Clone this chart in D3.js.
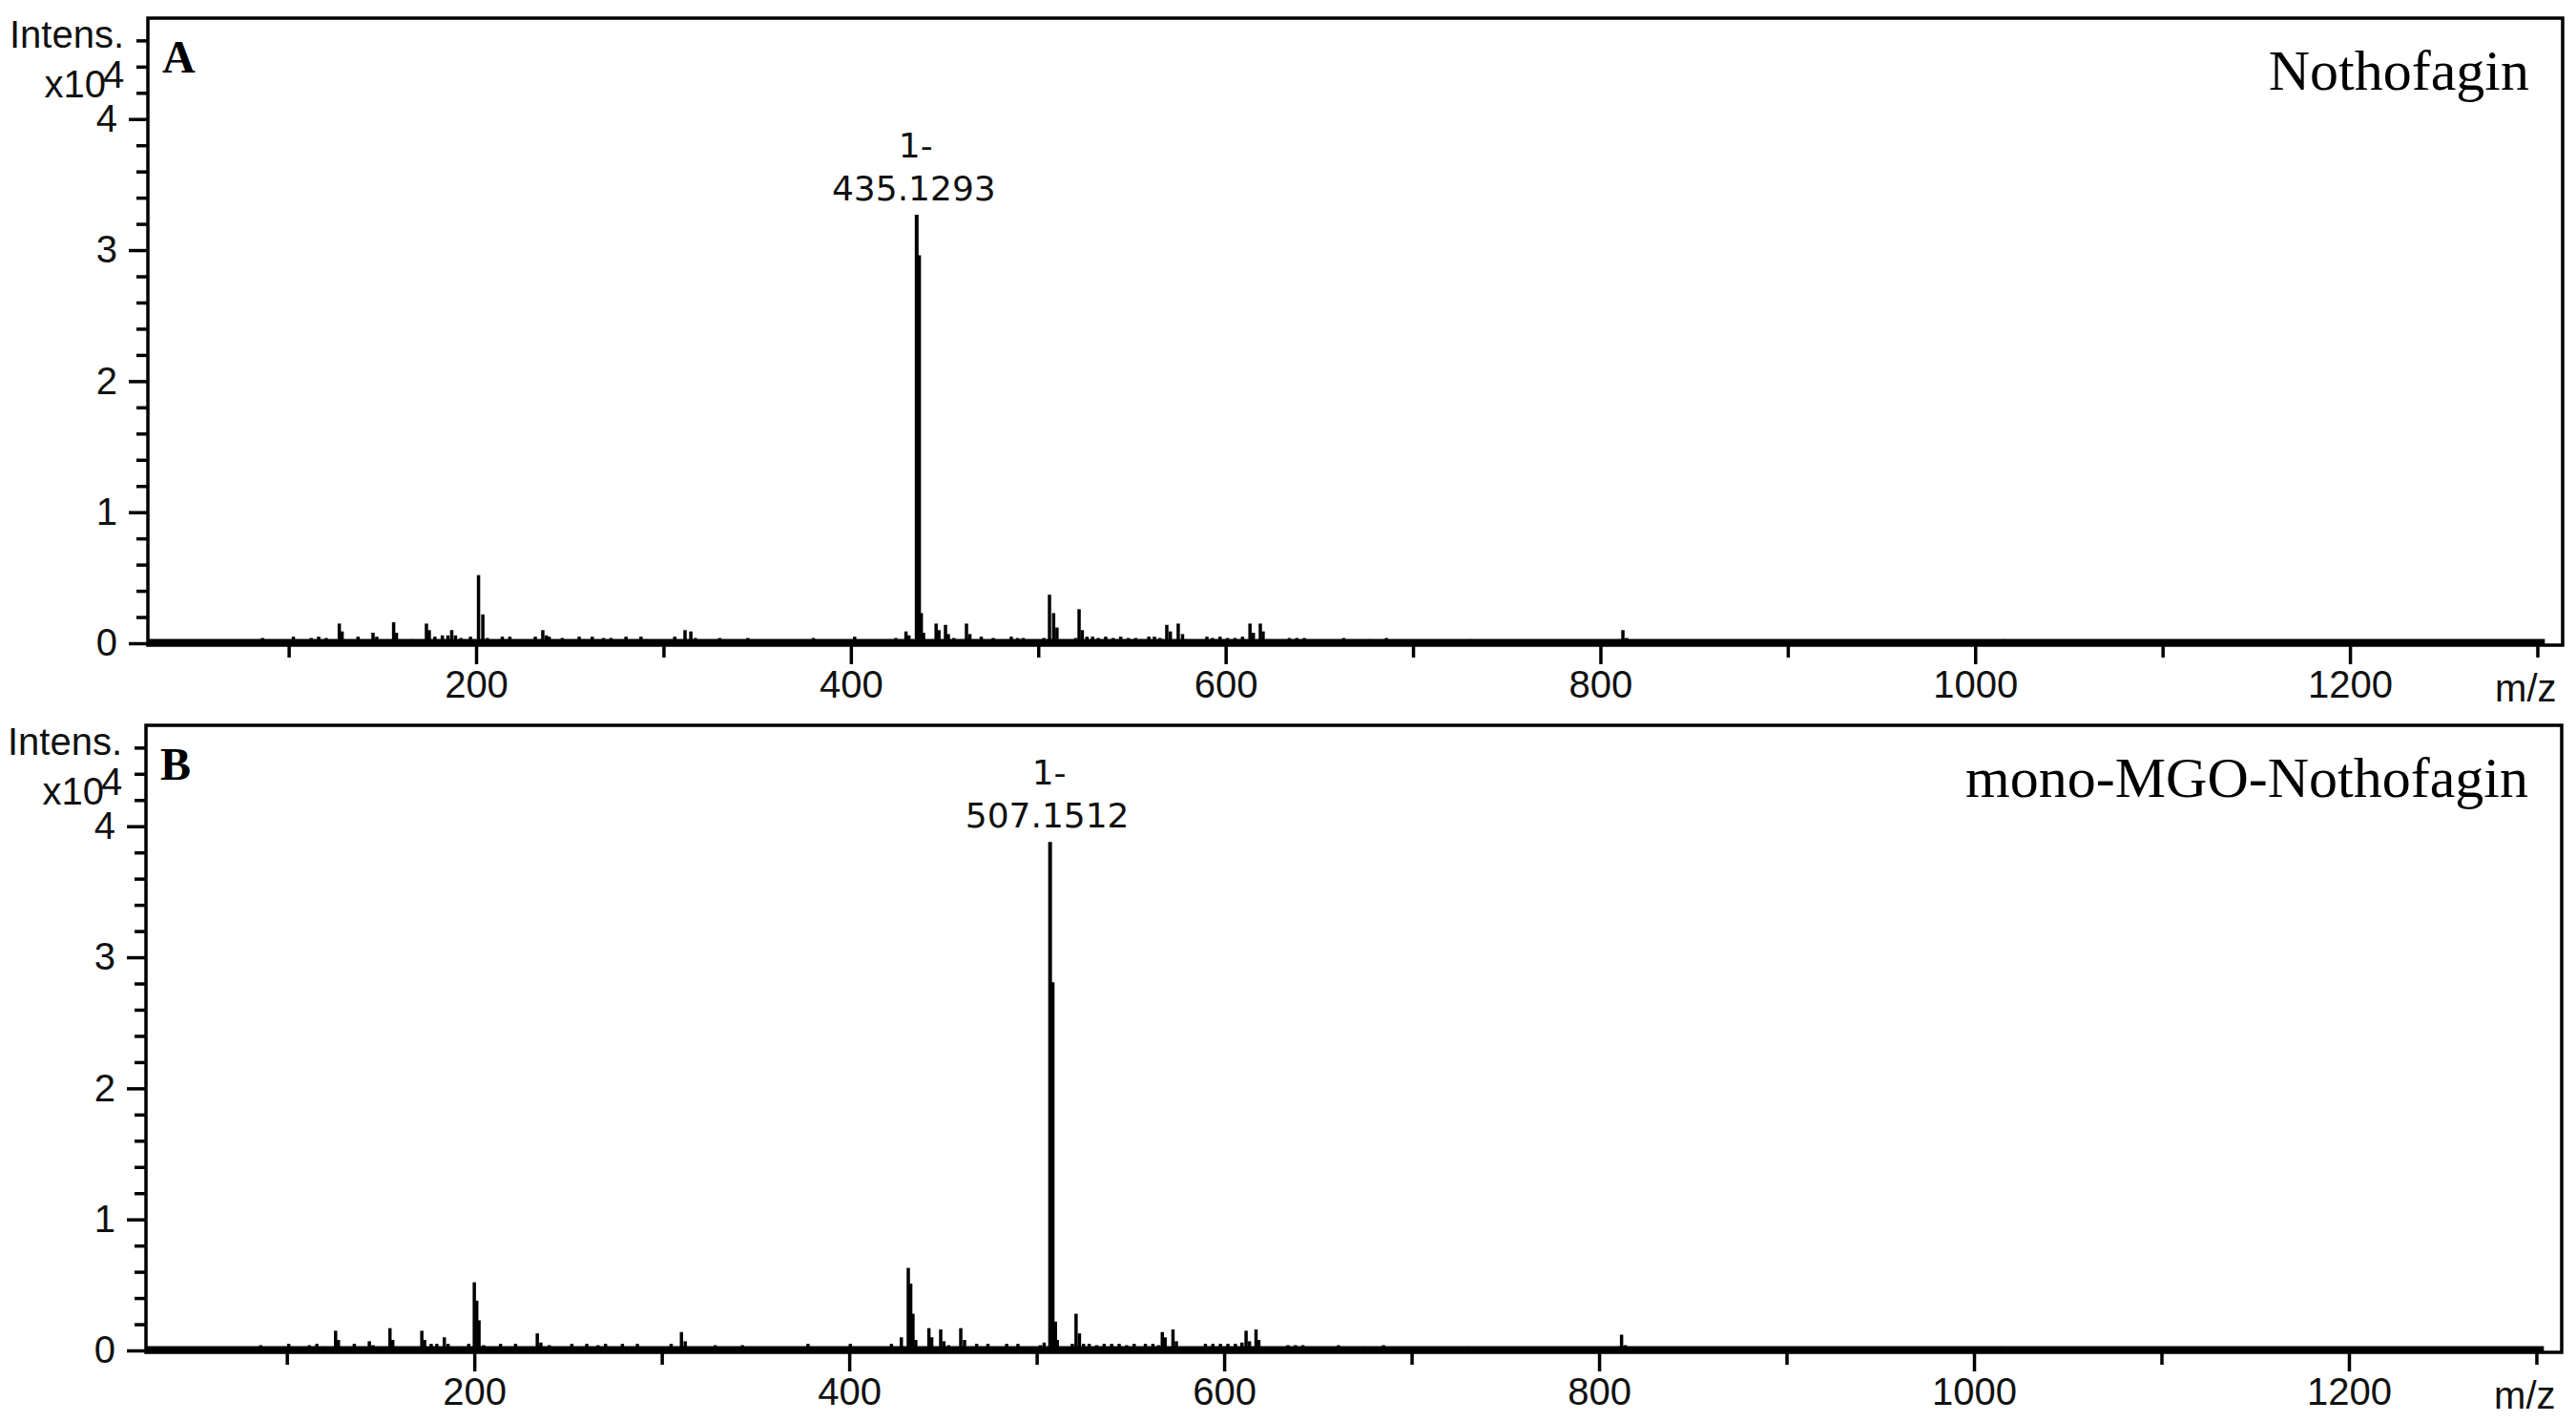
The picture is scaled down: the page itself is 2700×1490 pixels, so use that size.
<!DOCTYPE html>
<html><head><meta charset="utf-8">
<script src="https://cdn.jsdelivr.net/npm/d3@7"></script>
<style>html,body{margin:0;padding:0;background:#fff;} svg{display:block;}</style>
</head><body>
<script>
// ---------- DATA ----------
const mzTicks = [100,200,300,400,500,600,700,800,900,1000,1100,1200,1300];
const mzLabels = [200,400,600,800,1000,1200];
const yMajor = [0,1,2,3,4];
const yMinor = [0.2,0.4,0.6,0.8,1.2,1.4,1.6,1.8,2.2,2.4,2.6,2.8,3.2,3.4,3.6,3.8,4.2,4.4,4.6];

// Panel A: Nothofagin  (m/z, intensity x10^4)
const mzA = [86,102.5,112,116,120,127,128.5,137,145,147,156,157.5,166,173.5,175,178,182,185,187,189,192,197,
  201.3,203.6,206,214,218,231.6,235.6,237.5,239,246,255,258,262,268,272,280,288,291,306,311.5,314.6,317,
  330,345,380,402,424,429.4,431,435.13,436.4,437.6,438.8,445.5,447,450.5,452,455,461.7,463.5,469.6,476,
  485.6,489,492,503,506,508.2,510,520,521.8,523.5,526,529,532,536,540,544,548,552,555,559,562,565,568.6,
  570.5,574.7,577,579,590,593,597,601,605,609,613,614.8,618.5,620,634,638,642,663,676.6,685.8,730.5,733,
  810,812,814,1015.6];
const intA = [0.04,0.05,0.04,0.05,0.04,0.15,0.09,0.05,0.08,0.05,0.16,0.08,0.03,0.15,0.10,0.05,0.06,0.06,0.10,0.06,0.04,0.05,
  0.52,0.22,0.04,0.05,0.05,0.05,0.10,0.06,0.05,0.04,0.05,0.03,0.05,0.04,0.04,0.05,0.05,0.03,0.05,0.10,0.09,0.04,
  0.04,0.04,0.04,0.05,0.04,0.09,0.06,3.27,2.96,0.23,0.08,0.15,0.10,0.14,0.07,0.04,0.15,0.07,0.05,0.04,
  0.05,0.04,0.04,0.04,0.37,0.23,0.12,0.04,0.26,0.10,0.05,0.05,0.04,0.05,0.04,0.05,0.04,0.04,0.03,0.05,0.05,0.04,0.14,
  0.09,0.15,0.07,0.03,0.05,0.04,0.05,0.04,0.04,0.05,0.15,0.08,0.15,0.09,0.04,0.04,0.04,0.04,0.03,0.04,0.03,0.02,
  0.03,0.10,0.04,0.03];

// Panel B: mono-MGO-Nothofagin
const mzB = [86,101,112,116,120,126,127.5,136,144,146,155,156.5,172,173.5,177,180,184,186,197,
  200,201.3,202.5,205,214,222,233.6,235.5,240,252,260,266,270,279,287,305,310.5,312.5,
  328.5,343,378,400.6,422.5,427.8,431.5,432.8,434,435.5,442.5,444,448.8,450.5,453,459.5,461.5,
  468,474,484,490,502,504,507.15,508.5,510,511,519,521,522.8,525,528,532,536,540,544,548,552,
  558,562,565,567,568.5,572.7,574.5,590,594,598,602,606,609.5,611.7,613.5,617,618.5,
  634,638,642,661,675,685,730,810,812,814,1015];
const intB = [0.04,0.05,0.04,0.05,0.03,0.15,0.08,0.05,0.07,0.04,0.17,0.08,0.15,0.08,0.05,0.05,0.10,0.05,0.05,
  0.52,0.38,0.23,0.04,0.05,0.05,0.13,0.06,0.04,0.05,0.05,0.04,0.05,0.05,0.05,0.05,0.14,0.07,
  0.04,0.04,0.05,0.05,0.05,0.10,0.63,0.51,0.28,0.08,0.17,0.10,0.16,0.07,0.04,0.17,0.08,
  0.05,0.05,0.05,0.05,0.04,0.06,3.88,2.81,0.22,0.08,0.05,0.28,0.13,0.05,0.05,0.04,0.05,0.05,0.05,0.04,0.05,
  0.05,0.05,0.04,0.14,0.10,0.16,0.07,0.05,0.05,0.05,0.05,0.05,0.06,0.15,0.07,0.16,0.08,
  0.04,0.04,0.04,0.04,0.03,0.04,0.03,0.03,0.12,0.04,0.03];

const panels = [
  {letter:"A", title:"Nothofagin", mz:mzA, inten:intA, peakMz:435.13, peakInt:3.27, peakLabel:["1-","435.1293"],
   top:19, bottom:674, left:155, right:2686},
  {letter:"B", title:"mono-MGO-Nothofagin", mz:mzB, inten:intB, peakMz:507.15, peakInt:3.88, peakLabel:["1-","507.1512"],
   top:760, bottom:1415, left:153, right:2685}
];
const mzDomain = [24.85, 1313.5];
const yMax = 4.77;

// ---------- DRAW ----------
const svg = d3.select("body").append("svg").attr("width",2700).attr("height",1490);
const sans = "'Liberation Sans', Arial, sans-serif";
const serif = "'Liberation Serif', 'Times New Roman', serif";

panels.forEach(p => {
  const x = d3.scaleLinear().domain(mzDomain).range([p.left, p.right]);
  const y = d3.scaleLinear().domain([0, yMax]).range([p.bottom, p.top]);
  const g = svg.append("g");

  // frame
  g.append("rect").attr("x", p.left).attr("y", p.top)
    .attr("width", p.right - p.left).attr("height", p.bottom - p.top + 2)
    .attr("fill","none").attr("stroke","#000").attr("stroke-width",3.5);

  // peaks
  g.append("g").selectAll("line").data(p.mz.map((m,i)=>[m,p.inten[i]])).join("line")
    .attr("x1", d=>x(d[0])).attr("x2", d=>x(d[0]))
    .attr("y1", y(0)).attr("y2", d=>y(d[1]))
    .attr("stroke","#000").attr("stroke-width",d => d[1] > 1 ? 4 : 3.5);

  // x axis: minor & major ticks
  const xAxisMinor = d3.axisBottom(x).tickValues(mzTicks.filter(t=>!mzLabels.includes(t))).tickSize(15).tickFormat("");
  const xAxisMajor = d3.axisBottom(x).tickValues(mzLabels).tickSize(22).tickPadding(10).tickFormat(d3.format("d"));
  [xAxisMinor, xAxisMajor].forEach((ax,k) => {
    const a = g.append("g").attr("transform",`translate(0,${y(0)})`).call(ax);
    a.select(".domain").remove();
    a.selectAll(".tick line").attr("stroke","#000").attr("stroke-width",3.5);
    a.selectAll(".tick text").attr("font-family",sans).attr("font-size",40).attr("fill","#111")
      .attr("dy", "0.62em");
  });
  // thick baseline
  g.append("line").attr("x1", p.left).attr("x2", x(1304)).attr("y1", y(0) - 1).attr("y2", y(0) - 1)
    .attr("stroke","#000").attr("stroke-width",7);

  // y axis
  const yAxisMinor = d3.axisLeft(y).tickValues(yMinor).tickSize(12).tickFormat("");
  const yAxisMajor = d3.axisLeft(y).tickValues(yMajor).tickSize(20).tickPadding(12).tickFormat(d3.format("d"));
  [yAxisMinor, yAxisMajor].forEach(ax => {
    const a = g.append("g").attr("transform",`translate(${p.left},0)`).call(ax);
    a.select(".domain").remove();
    a.selectAll(".tick line").attr("stroke","#000").attr("stroke-width",3.5);
    a.selectAll(".tick text").attr("font-family",sans).attr("font-size",40).attr("fill","#111");
  });

  // y axis caption
  g.append("text").attr("x", p.left - 25).attr("y", p.top + 31).attr("text-anchor","end")
    .attr("font-family",sans).attr("font-size",40).attr("fill","#111").text("Intens.");
  g.append("text").attr("x", p.left - 44).attr("y", p.top + 83).attr("text-anchor","end")
    .attr("font-family",sans).attr("font-size",40).attr("fill","#111").text("x10");
  g.append("text").attr("x", p.left - 47).attr("y", p.top + 73).attr("text-anchor","start")
    .attr("font-family",sans).attr("font-size",40).attr("fill","#111").text("4");

  // x axis caption
  g.append("text").attr("x", x(1304) - 20).attr("y", y(0) + 61).attr("text-anchor","middle")
    .attr("font-family",sans).attr("font-size",40).attr("fill","#111").text("m/z");

  // panel letter
  g.append("text").attr("x", p.left + 15).attr("y", p.top + 57)
    .attr("font-family",serif).attr("font-weight","bold").attr("font-size",48).attr("fill","#000").text(p.letter);

  // title
  g.append("text").attr("x", p.right - 35).attr("y", p.top + 75).attr("text-anchor","end")
    .attr("font-family",serif).attr("font-size",60).attr("fill","#000").text(p.title);

  // peak label
  const px = x(p.peakMz) - 3, py = y(p.peakInt);
  g.append("text").attr("x", px + 2).attr("y", py - 60).attr("text-anchor","middle")
    .attr("font-family","'DejaVu Sans', Verdana, sans-serif").attr("font-size",36).attr("fill","#111").text(p.peakLabel[0]);
  g.append("text").attr("x", px).attr("y", py - 15).attr("text-anchor","middle")
    .attr("font-family","'DejaVu Sans', Verdana, sans-serif").attr("font-size",36).attr("fill","#111").text(p.peakLabel[1]);
});
</script>
</body></html>
